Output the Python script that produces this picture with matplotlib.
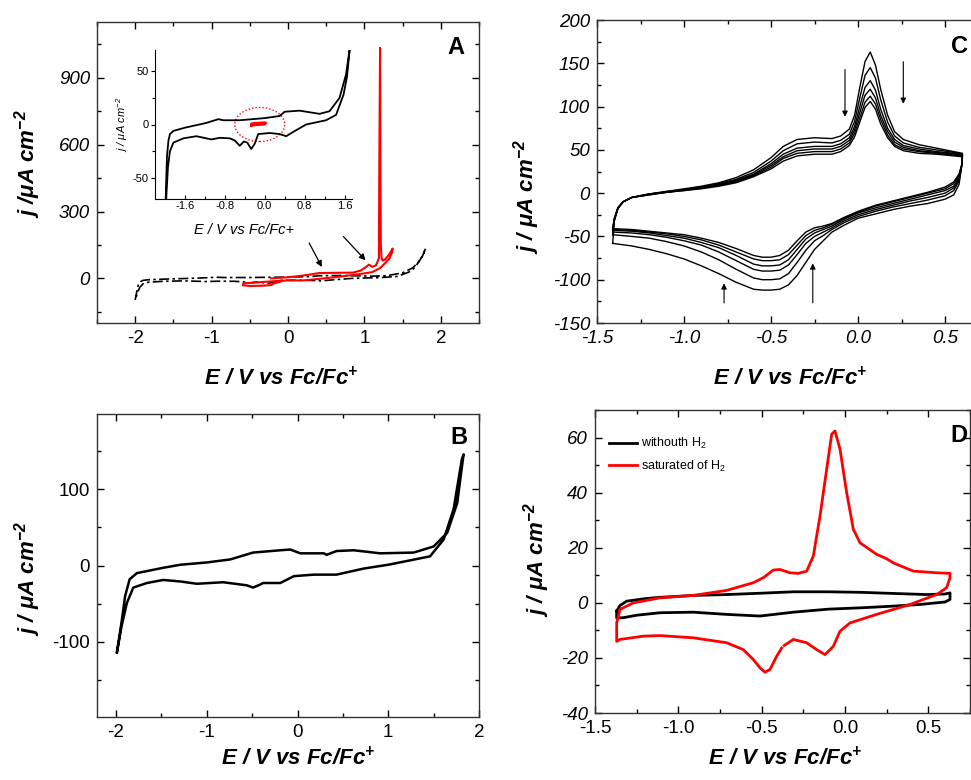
import matplotlib
matplotlib.use('Agg')
import matplotlib.pyplot as plt
from matplotlib.ticker import MultipleLocator
from matplotlib.patches import Ellipse

plt.rcParams['font.family'] = ['Liberation Sans', 'DejaVu Sans']
plt.rcParams['mathtext.default'] = 'regular'
plt.rcParams['axes.unicode_minus'] = False

# ---- panel A: blank electrolyte (black) and H2 run (red)
a_x = [-2.0, -1.98, -1.96, -1.93, -1.9, -1.83, -1.6, -1.17, -0.93, -0.83, -0.5, 0.0, 0.3, 0.4,
       0.7, 1.1, 1.3, 1.5, 1.63, 1.7, 1.76, 1.8, 1.78, 1.72, 1.65, 1.58, 1.43, 1.23, 0.83, 0.57,
       0.43, 0.3, 0.1, -0.13, -0.2, -0.27, -0.35, -0.42, -0.5, -0.6, -0.7, -0.9, -1.07, -1.37,
       -1.63, -1.83, -1.9, -1.94, -1.97, -2.0]
a_y = [-97, -60, -30, -15, -9, -6, -3, 1.5, 5, 4, 4, 6, 8, 12,
       13, 10, 12.5, 25, 47, 70, 100, 134, 115, 78, 45, 28, 9, 4, 0, -7,
       -11, -9, -8, -9, -18, -23, -17, -16, -20, -15, -13, -12.5, -14, -11,
       -13, -17, -25, -40, -65, -97]

a_red_x = [-0.22, 0.0, 0.2, 0.41, 0.6, 0.85, 0.95, 1.02, 1.06, 1.1, 1.15, 1.19, 1.195, 1.205,
           1.21, 1.215, 1.225, 1.24, 1.27, 1.32, 1.37, 1.36, 1.33, 1.27, 1.2, 1.1, 0.93, 0.63,
           0.41, 0.2, 0.0, -0.2, -0.33, -0.46, -0.57, -0.59, -0.59, -0.5, -0.35, -0.22, -0.18, -0.1]
a_red_y = [0, 5, 13, 24, 25, 26, 35, 51, 62, 52, 58, 90, 500, 1034,
           500, 150, 90, 80, 85, 105, 134, 115, 90, 68, 45, 28, 19, 6,
           -2, -9, -9, -13, -16, -20, -21, -25, -31, -34, -33, -30, -22, -15]

ins_red_x = [-0.27, -0.15, 0.0, 0.03, 0.0, -0.15, -0.27, -0.27]
ins_red_y = [-1, -0.5, 0, 1.5, 2, 1.5, 1, -1]

# ---- panel B
b_x = [-1.99, -1.94, -1.9, -1.85, -1.77, -1.48, -1.29, -1.0, -0.74, -0.49, -0.19, -0.08, 0.03,
       0.29, 0.32, 0.43, 0.62, 0.91, 1.28, 1.5, 1.65, 1.76, 1.83, 1.81, 1.72, 1.61, 1.46, 1.0,
       0.73, 0.43, 0.18, -0.04, -0.19, -0.38, -0.41, -0.49, -0.56, -0.82, -1.11, -1.29, -1.48,
       -1.66, -1.81, -1.88, -1.94, -1.99]
b_y = [-114, -75, -40, -18, -10, -3, 1, 4, 8, 17, 20, 21, 16,
       16, 14, 19, 20, 16, 17, 25, 43, 82, 146, 139, 74, 34, 12, 1,
       -4, -12, -12, -14, -23, -23, -25, -29, -26, -22, -24, -21, -19,
       -23, -29, -49, -80, -114]

# ---- panel C: six successive cycles
c_xa = [-1.41, -1.40, -1.38, -1.35, -1.30, -1.20, -1.10, -1.00, -0.90, -0.80, -0.70, -0.60,
        -0.50, -0.43, -0.35, -0.25, -0.15, -0.10, -0.05, -0.02, 0.01, 0.04, 0.07, 0.10, 0.13,
        0.17, 0.21, 0.26, 0.35, 0.45, 0.55, 0.60]
c_ya = [
    [-58, -32, -18, -10, -5, -1, 2, 5, 8, 12, 18, 27, 41, 54, 62, 64, 63, 66, 74, 90, 122, 152, 163, 148, 120, 90, 71, 62, 56, 52, 48, 46],
    [-48, -31, -18, -10, -5, -1, 2, 4, 7, 11, 16, 24, 37, 49, 57, 59, 58, 61, 68, 83, 110, 136, 145, 133, 108, 82, 66, 58, 53, 50, 47, 45],
    [-45, -30, -17, -10, -5, -1, 1, 4, 7, 10, 15, 22, 34, 45, 52, 54, 54, 57, 64, 77, 100, 122, 130, 119, 97, 75, 62, 55, 51, 48, 46, 44],
    [-43, -30, -17, -10, -5, -1, 1, 4, 6, 9, 14, 21, 32, 42, 49, 51, 51, 54, 61, 73, 93, 113, 120, 110, 90, 71, 59, 53, 49, 47, 45, 44],
    [-42, -29, -17, -10, -5, -2, 1, 3, 6, 9, 13, 20, 30, 40, 46, 48, 48, 51, 58, 69, 87, 105, 112, 103, 85, 67, 56, 51, 48, 46, 44, 43],
    [-41, -29, -17, -10, -5, -2, 1, 3, 5, 8, 12, 19, 28, 37, 43, 45, 45, 48, 55, 65, 82, 99, 106, 97, 80, 64, 54, 49, 46, 45, 43, 42],
]
c_xc = [0.60, 0.595, 0.58, 0.55, 0.50, 0.40, 0.30, 0.20, 0.10, 0.00, -0.08, -0.15, -0.20, -0.25,
        -0.30, -0.35, -0.40, -0.45, -0.50, -0.55, -0.60, -0.70, -0.80, -0.90, -1.00, -1.10,
        -1.20, -1.30, -1.41]
c_yc = [
    [46, 30, 10, -2, -7, -12, -15, -19, -24, -29, -37, -45, -55, -65, -80, -95, -106, -111, -112, -112, -111, -103, -93, -84, -76, -70, -65, -61, -58],
    [45, 31, 14, 3, -3, -8, -12, -16, -21, -27, -34, -42, -49, -55, -66, -80, -93, -99, -100, -100, -98, -88, -77, -68, -61, -56, -52, -50, -48],
    [44, 31, 16, 6, 0, -5, -9, -14, -19, -25, -32, -40, -45, -50, -58, -71, -83, -89, -90, -90, -88, -78, -68, -60, -55, -51, -48, -46, -45],
    [44, 32, 18, 8, 3, -2, -7, -12, -17, -23, -30, -38, -42, -46, -53, -65, -77, -83, -84, -84, -82, -72, -63, -57, -52, -49, -46, -44, -43],
    [43, 32, 20, 11, 5, 0, -5, -10, -15, -22, -29, -36, -40, -43, -49, -60, -71, -77, -78, -78, -76, -68, -60, -54, -50, -47, -45, -43, -42],
    [42, 32, 22, 13, 7, 1, -4, -9, -14, -21, -28, -35, -38, -40, -45, -55, -66, -72, -74, -74, -72, -64, -57, -52, -48, -46, -44, -42, -41],
]

# ---- panel D
d_blk_x = [-1.37, -1.35, -1.31, -1.2, -1.11, -0.9, -0.71, -0.5, -0.31, -0.1, 0.1, 0.29, 0.49, 0.6,
           0.63, 0.63, 0.6, 0.45, 0.29, 0.1, -0.1, -0.31, -0.51, -0.71, -0.91, -1.11, -1.25,
           -1.33, -1.37, -1.37]
d_blk_y = [-3, -1, 0.6, 1.5, 2, 2.7, 3, 3.5, 4, 4, 3.8, 3.4, 3, 3.2,
           3.6, 1.2, 0.3, -0.6, -1.2, -1.8, -2.3, -3.4, -4.8, -4.2, -3.4, -3.6, -4.5,
           -5.4, -5.5, -3]
d_red_x = [-0.365, -0.31, -0.23, -0.17, -0.12, -0.07, -0.03, 0.03, 0.19, 0.39, 0.55, 0.61, 0.63,
           0.63, 0.55, 0.41, 0.29, 0.25, 0.19, 0.09, 0.05, 0.01, -0.03, -0.06, -0.08, -0.11,
           -0.15, -0.19, -0.23, -0.28, -0.33, -0.39, -0.43, -0.49, -0.55, -0.71, -0.91, -1.11,
           -1.27, -1.35, -1.37, -1.37, -1.35, -1.21, -1.11, -0.91, -0.71, -0.61, -0.55, -0.51,
           -0.48, -0.45, -0.41, -0.38]
d_red_y = [-15.5, -13.3, -14.5, -17, -18.8, -15.8, -10.3, -7.3, -4.2, -0.6, 3, 5.5, 9.1,
           10.7, 10.9, 11.5, 14.5, 16, 17.6, 21.8, 26.7, 40, 55.8, 62.4, 61.2, 48.5,
           31.5, 17, 11.5, 10.7, 10.9, 12.1, 11.9, 9.1, 7.3, 4.5, 2.7, 1.8,
           0, -2.4, -7.3, -14, -13.3, -12.1, -11.9, -12.7, -14.5, -17, -20.6, -23.6,
           -25.2, -24.2, -19.4, -16.4]

XLAB = r'E / V vs Fc/Fc$^{+}$'
YLAB = r'j / μA cm$^{-2}$'


def frame(ax, xmaj, xmin, ymaj, ymin, xital=False, yital=False, right=True):
    ax.xaxis.set_major_locator(MultipleLocator(xmaj))
    ax.xaxis.set_minor_locator(MultipleLocator(xmin))
    ax.yaxis.set_major_locator(MultipleLocator(ymaj))
    ax.yaxis.set_minor_locator(MultipleLocator(ymin))
    ax.tick_params(which='both', direction='in', top=True, right=right, labelsize=13.5, pad=5)
    ax.tick_params(which='major', length=5, width=1)
    ax.tick_params(which='minor', length=3, width=1)
    for s in ax.spines.values():
        s.set_linewidth(1.0)
        s.set_color('#333333')
    if xital:
        plt.setp(ax.get_xticklabels(), fontstyle='italic')
    if yital:
        plt.setp(ax.get_yticklabels(), fontstyle='italic')


def labels(ax, xl, yl, letter, lpos, ylab=YLAB):
    ax.set_xlabel(XLAB, fontsize=16, fontweight='bold', fontstyle='italic')
    ax.set_ylabel(ylab, fontsize=16, fontweight='bold', fontstyle='italic')
    ax.xaxis.set_label_coords(*xl)
    ax.yaxis.set_label_coords(*yl)
    ax.text(lpos[0], lpos[1], letter, transform=ax.transAxes, fontsize=17,
            fontweight='bold', ha='center', va='center')


fig = plt.figure(figsize=(9.71, 7.8), dpi=100)
W, H = 971.0, 780.0


def box(l, r, t, b):
    return [l / W, 1 - b / H, (r - l) / W, (b - t) / H]


# A
axA = fig.add_axes(box(97, 479, 22, 323))
axA.plot(a_x, a_y, color='k', lw=1.2, ls=(0, (6, 2, 1.5, 2)))
axA.plot(a_red_x, a_red_y, color='red', lw=1.5)
axA.set_xlim(-2.5, 2.5)
axA.set_ylim(-200, 1150)
frame(axA, 1, 0.5, 300, 150, yital=True)
labels(axA, (0.482, -0.146), (-0.141, 0.53), 'A', (0.94, 0.914), ylab=r'j /μA cm$^{-2}$')
axA.annotate('', xy=(0.46, 40), xytext=(0.26, 170),
             arrowprops=dict(arrowstyle='-|>', color='k', lw=0.9, mutation_scale=9))
axA.annotate('', xy=(1.04, 72), xytext=(0.70, 197),
             arrowprops=dict(arrowstyle='-|>', color='k', lw=0.9, mutation_scale=9))

# A inset
axI = fig.add_axes(box(155, 352, 50, 199))
axI.set_facecolor('none')
axI.plot(a_x, a_y, color='k', lw=1.3)
axI.plot(ins_red_x, ins_red_y, color='red', lw=1.5)
axI.add_patch(Ellipse((-0.1, 0), 1.0, 32, fill=False, ec='red', lw=1.0, ls=(0, (1, 1.5))))
axI.set_xlim(-2.2, 1.75)
axI.set_ylim(-70, 70)
axI.spines['top'].set_visible(False)
axI.spines['right'].set_visible(False)
axI.xaxis.set_major_locator(MultipleLocator(0.8))
axI.xaxis.set_minor_locator(MultipleLocator(0.4))
axI.yaxis.set_major_locator(MultipleLocator(50))
axI.yaxis.set_minor_locator(MultipleLocator(25))
axI.tick_params(which='both', labelsize=8, width=0.8, pad=1.5)
axI.tick_params(axis='x', which='both', direction='in')
axI.tick_params(axis='y', which='both', direction='out')
axI.tick_params(which='major', length=3)
axI.tick_params(which='minor', length=2)
axI.set_xlabel('E / V vs Fc/Fc+', fontsize=10.5, fontstyle='italic')
axI.set_ylabel(YLAB, fontsize=8, fontstyle='italic', labelpad=2)
axI.xaxis.set_label_coords(0.45, -0.16)

# B
axB = fig.add_axes(box(97, 479, 414, 717))
axB.plot(b_x, b_y, color='k', lw=1.8)
axB.set_xlim(-2.21, 2.0)
axB.set_ylim(-199, 199)
frame(axB, 1, 0.5, 100, 50)
labels(axB, (0.526, -0.1), (-0.141, 0.455), 'B', (0.948, 0.924))

# C
axC = fig.add_axes(box(597, 975, 20, 323))
for ya, yc in zip(c_ya, c_yc):
    axC.plot(c_xa + c_xc, ya + yc, color='k', lw=1.0)
axC.set_xlim(-1.5, 0.672)
axC.set_ylim(-150, 200)
frame(axC, 0.5, 0.25, 50, 25, xital=True, yital=True, right=False)
labels(axC, (0.51, -0.145), (-0.146, 0.416), 'C', (0.96, 0.911))
for tail, head in [((-0.075, 146), (-0.075, 85)), ((0.26, 155), (0.26, 100)),
                   ((-0.77, -130), (-0.77, -101)), ((-0.26, -130), (-0.26, -78))]:
    axC.annotate('', xy=head, xytext=tail,
                 arrowprops=dict(arrowstyle='-|>', color='k', lw=0.8, mutation_scale=8))

# D
axD = fig.add_axes(box(595, 970, 410, 713))
axD.plot(d_blk_x, d_blk_y, color='k', lw=2.0, label=r'withouth H$_2$')
axD.plot(d_red_x, d_red_y, color='red', lw=2.0, label=r'saturated of H$_2$')
axD.set_xlim(-1.5, 0.75)
axD.set_ylim(-40, 70)
frame(axD, 0.5, 0.25, 20, 10, yital=True)
labels(axD, (0.507, -0.112), (-0.115, 0.505), 'D', (0.971, 0.917))
axD.legend(loc='upper left', bbox_to_anchor=(0.037, 0.914), frameon=False, fontsize=9,
           borderpad=0, borderaxespad=0, handlelength=2.24, handletextpad=0.3,
           labelspacing=0.6)

fig.savefig('out.png', dpi=100)
